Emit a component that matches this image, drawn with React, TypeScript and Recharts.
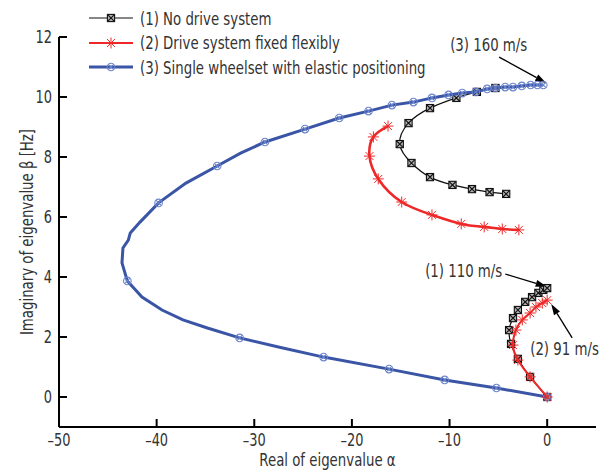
import { ScatterChart, Scatter, XAxis, YAxis, ReferenceLine, ReferenceDot } from 'recharts'

// real part (alpha) / imaginary part (beta, Hz) of the eigenvalues

// (1) no drive system
const blackUpper: [number, number][] = [
  [-5.3, 10.3], [-7.2, 10.17], [-9.3, 9.97], [-12.0, 9.63], [-14.2, 9.13], [-15.1, 8.43],
  [-13.9, 7.8], [-12.0, 7.33], [-9.7, 7.07], [-7.7, 6.93], [-5.9, 6.83], [-4.2, 6.77],
]
const blackLower: [number, number][] = [
  [0, 0], [-1.75, 0.67], [-3.0, 1.27], [-3.7, 1.77], [-3.9, 2.23], [-3.5, 2.63],
  [-3.0, 2.9], [-2.25, 3.17], [-1.55, 3.33], [-0.9, 3.47], [-0.4, 3.57], [0, 3.63],
]

// (2) drive system fixed flexibly
const redUpper: [number, number][] = [
  [-16.3, 9.03], [-17.8, 8.67], [-18.2, 8.03], [-17.3, 7.27], [-14.9, 6.5], [-11.8, 6.07],
  [-8.8, 5.77], [-6.45, 5.67], [-4.6, 5.6], [-2.9, 5.57],
]
const redLower: [number, number][] = [
  [0, 0], [-1.75, 0.67], [-3.0, 1.23], [-3.5, 1.73], [-3.2, 2.23], [-2.55, 2.57],
  [-1.75, 2.8], [-1.15, 3.0], [-0.5, 3.13], [0, 3.23],
]

// (3) single wheelset with elastic positioning
const blueLine: [number, number][] = [
  [0, 0], [-5.2, 0.3], [-10.5, 0.57], [-16.2, 0.93], [-22.9, 1.33], [-27.3, 1.65], [-31.5, 1.97],
  [-34.8, 2.3], [-37.3, 2.57], [-39.45, 2.9], [-41.5, 3.33], [-43.0, 3.87], [-43.55, 4.47],
  [-43.45, 4.97], [-42.9, 5.23], [-42.7, 5.47], [-41.7, 5.83], [-39.8, 6.47], [-37.0, 7.13],
  [-33.8, 7.7], [-31.4, 8.13], [-28.9, 8.5], [-24.8, 8.93], [-21.3, 9.3], [-18.3, 9.53],
  [-15.9, 9.73], [-13.7, 9.83], [-11.8, 9.97], [-10.1, 10.07], [-8.7, 10.13], [-7.3, 10.17],
  [-6.15, 10.27], [-5.3, 10.3], [-4.3, 10.33], [-3.5, 10.33], [-2.6, 10.37], [-1.7, 10.4],
  [-1.0, 10.4], [-0.4, 10.4],
]
const blueMarks: [number, number][] = [
  [0, 0], [-5.2, 0.3], [-10.5, 0.57], [-16.2, 0.93], [-22.9, 1.33], [-31.5, 1.97], [-43.0, 3.87],
  [-39.8, 6.47], [-33.8, 7.7], [-28.9, 8.5], [-24.8, 8.93], [-21.3, 9.3], [-18.3, 9.53],
  [-15.9, 9.73], [-13.7, 9.83], [-11.8, 9.97], [-10.1, 10.07], [-8.7, 10.13], [-7.3, 10.17],
  [-6.15, 10.27], [-5.3, 10.3], [-4.3, 10.33], [-3.5, 10.33], [-2.6, 10.37], [-1.7, 10.4],
  [-1.0, 10.4], [-0.4, 10.4],
]

const xTicks = [-50, -40, -30, -20, -10, 0]
const yTicks = [0, 2, 4, 6, 8, 10, 12]

const legendLabels = [
  '(1) No drive system',
  '(2) Drive system fixed flexibly',
  '(3) Single wheelset with elastic positioning',
]

// annotations: label text, label anchor, arrow start, arrow end
const notes = [
  { text: '(3) 160 m/s', at: [-9.94, 11.77], anchor: 'start', from: [-4.92, 11.33], to: [-0.1, 10.47] },
  { text: '(1) 110 m/s', at: [-4.6, 4.23], anchor: 'end', from: [-4.3, 4.1], to: [-0.05, 3.68] },
  { text: '(2) 91 m/s', at: [-1.74, 1.63], anchor: 'start', from: [2.56, 1.97], to: [0.41, 3.1] },
]

const FONT = "'DejaVu Sans Condensed', 'DejaVu Sans', sans-serif"
const SQUEEZE = 0.8 // the original type is a narrow DIN-like face
const TEXT = '#333'
const BLACK = '#111'
const RED = '#ee2828'
const BLUE = '#3b55a6'
const BLUE_MARK = '#6a84cc'

const toPts = (arr: [number, number][]) => arr.map(([x, y]) => ({ x, y }))

function NarrowText({ x, y, anchor = 'start', baseline = 'central', angle = 0, size = 18.5, children }: any) {
  return (
    <text
      transform={`translate(${x},${y}) rotate(${angle}) scale(${SQUEEZE},1)`}
      x={0}
      y={0}
      textAnchor={anchor}
      dominantBaseline={baseline}
      fontFamily={FONT}
      fontSize={size}
      fill={TEXT}
    >
      {children}
    </text>
  )
}

function SquareX({ cx, cy }: any) {
  const s = 3.6
  return (
    <g stroke={BLACK} strokeWidth={1.1}>
      <rect x={cx - s} y={cy - s} width={2 * s} height={2 * s} fill="#b5b5b5" />
      <path d={`M${cx - s},${cy - s}L${cx + s},${cy + s}M${cx + s},${cy - s}L${cx - s},${cy + s}`} />
    </g>
  )
}

function Star({ cx, cy }: any) {
  const r = 5.5
  const d = r * 0.72
  return (
    <path
      stroke={RED}
      strokeWidth={1}
      d={`M${cx - r},${cy}L${cx + r},${cy}M${cx},${cy - r}L${cx},${cy + r}M${cx - d},${cy - d}L${cx + d},${cy + d}M${cx + d},${cy - d}L${cx - d},${cy + d}`}
    />
  )
}

function CircleX({ cx, cy }: any) {
  const r = 3.8
  const d = 2.7
  return (
    <g stroke={BLUE_MARK} strokeWidth={1.1} fill="none">
      <circle cx={cx} cy={cy} r={r} />
      <path d={`M${cx - d},${cy - d}L${cx + d},${cy + d}M${cx + d},${cy - d}L${cx - d},${cy + d}`} />
    </g>
  )
}

const NoShape = () => <g />

function Arrow({ x1, y1, x2, y2 }: any) {
  const ang = Math.atan2(y2 - y1, x2 - x1)
  const len = 11
  const w = 3.5
  const bx = x2 - len * Math.cos(ang)
  const by = y2 - len * Math.sin(ang)
  const px = -Math.sin(ang) * w
  const py = Math.cos(ang) * w
  return (
    <g>
      <line x1={x1} y1={y1} x2={bx} y2={by} stroke="#000" strokeWidth={1.3} />
      <polygon points={`${x2},${y2} ${bx + px},${by + py} ${bx - px},${by - py}`} fill="#000" />
    </g>
  )
}

function LegendBox() {
  const markers = [SquareX, Star, CircleX]
  const colors = [BLACK, RED, BLUE]
  const widths = [1.2, 2.2, 3]
  return (
    <div style={{ position: 'absolute', left: 86, top: 6, fontFamily: FONT, fontSize: 18.5, color: TEXT }}>
      {legendLabels.map((label, i) => {
        const M = markers[i]
        return (
          <div key={label} style={{ position: 'absolute', top: i * 24.5, left: 0, height: 24, display: 'flex', alignItems: 'center', whiteSpace: 'nowrap' }}>
            <svg width={50} height={24}>
              <line x1={3} x2={47} y1={12} y2={12} stroke={colors[i]} strokeWidth={widths[i]} />
              <M cx={25} cy={12} />
            </svg>
            <span style={{ marginLeft: 4, display: 'inline-block', transform: `scaleX(${SQUEEZE})`, transformOrigin: 'left center' }}>{label}</span>
          </div>
        )
      })}
    </div>
  )
}

const fmtX = (v: number) => (v < 0 ? `\u2013${-v}` : `${v}`)

export default function App() {
  return (
    <div style={{ position: 'absolute', left: 0, top: 0, width: 616, height: 472, background: '#fff' }}>
      <ScatterChart width={616} height={472} margin={{ top: 37, right: 20, bottom: 0, left: 0 }}>
        <XAxis
          type="number"
          dataKey="x"
          domain={[-50, 5]}
          ticks={xTicks}
          allowDataOverflow
          height={45}
          tickSize={-8}
          tickMargin={14}
          axisLine={{ stroke: '#000', strokeWidth: 2 }}
          tickLine={{ stroke: '#000', strokeWidth: 2 }}
          tick={(p: any) => (
            <NarrowText x={p.x} y={p.y + 13} anchor="middle" baseline="alphabetic" size={18}>
              {fmtX(p.payload.value)}
            </NarrowText>
          )}
          label={{
            position: 'center',
            content: (p: any) => (
              <NarrowText x={p.viewBox.x + p.viewBox.width / 2} y={p.viewBox.y + p.viewBox.height - 6} anchor="middle" baseline="alphabetic">
                Real of eigenvalue {'\u03b1'}
              </NarrowText>
            ),
          }}
        />
        <YAxis
          type="number"
          dataKey="y"
          domain={[-1, 12]}
          ticks={yTicks}
          allowDataOverflow
          width={59}
          tickSize={-8}
          tickMargin={15}
          axisLine={{ stroke: '#000', strokeWidth: 2 }}
          tickLine={{ stroke: '#000', strokeWidth: 2 }}
          tick={(p: any) => (
            <NarrowText x={p.x} y={p.y} anchor="end" size={18}>
              {p.payload.value}
            </NarrowText>
          )}
          label={{
            position: 'center',
            content: (p: any) => (
              <NarrowText x={26} y={p.viewBox.y + p.viewBox.height / 2} anchor="middle" angle={-90}>
                Imaginary of eigenvalue {'\u03b2'} [Hz]
              </NarrowText>
            ),
          }}
        />

        <Scatter data={toPts(blackUpper)} line={{ stroke: BLACK, strokeWidth: 1.2 }} lineJointType="natural" shape={SquareX} isAnimationActive={false} />
        <Scatter data={toPts(blackLower)} line={{ stroke: BLACK, strokeWidth: 1.2 }} lineJointType="natural" shape={SquareX} isAnimationActive={false} />

        <Scatter data={toPts(blueLine)} line={{ stroke: BLUE, strokeWidth: 3 }} shape={NoShape} isAnimationActive={false} />
        <Scatter data={toPts(blueMarks)} shape={CircleX} isAnimationActive={false} />

        <Scatter data={toPts(redUpper)} line={{ stroke: RED, strokeWidth: 2.6 }} lineJointType="natural" shape={Star} isAnimationActive={false} />
        <Scatter data={toPts(redLower)} line={{ stroke: RED, strokeWidth: 2 }} lineJointType="natural" shape={Star} isAnimationActive={false} />

        {notes.map((n) => (
          <ReferenceLine
            key={`arrow-${n.text}`}
            segment={[{ x: n.from[0], y: n.from[1] }, { x: n.to[0], y: n.to[1] }]}
            ifOverflow="visible"
            shape={Arrow}
          />
        ))}
        {notes.map((n) => (
          <ReferenceDot
            key={`note-${n.text}`}
            x={n.at[0]}
            y={n.at[1]}
            r={0}
            ifOverflow="visible"
            shape={(p: any) => (
              <NarrowText x={p.cx} y={p.cy} anchor={n.anchor}>
                {n.text}
              </NarrowText>
            )}
          />
        ))}
      </ScatterChart>
      <LegendBox />
    </div>
  )
}
